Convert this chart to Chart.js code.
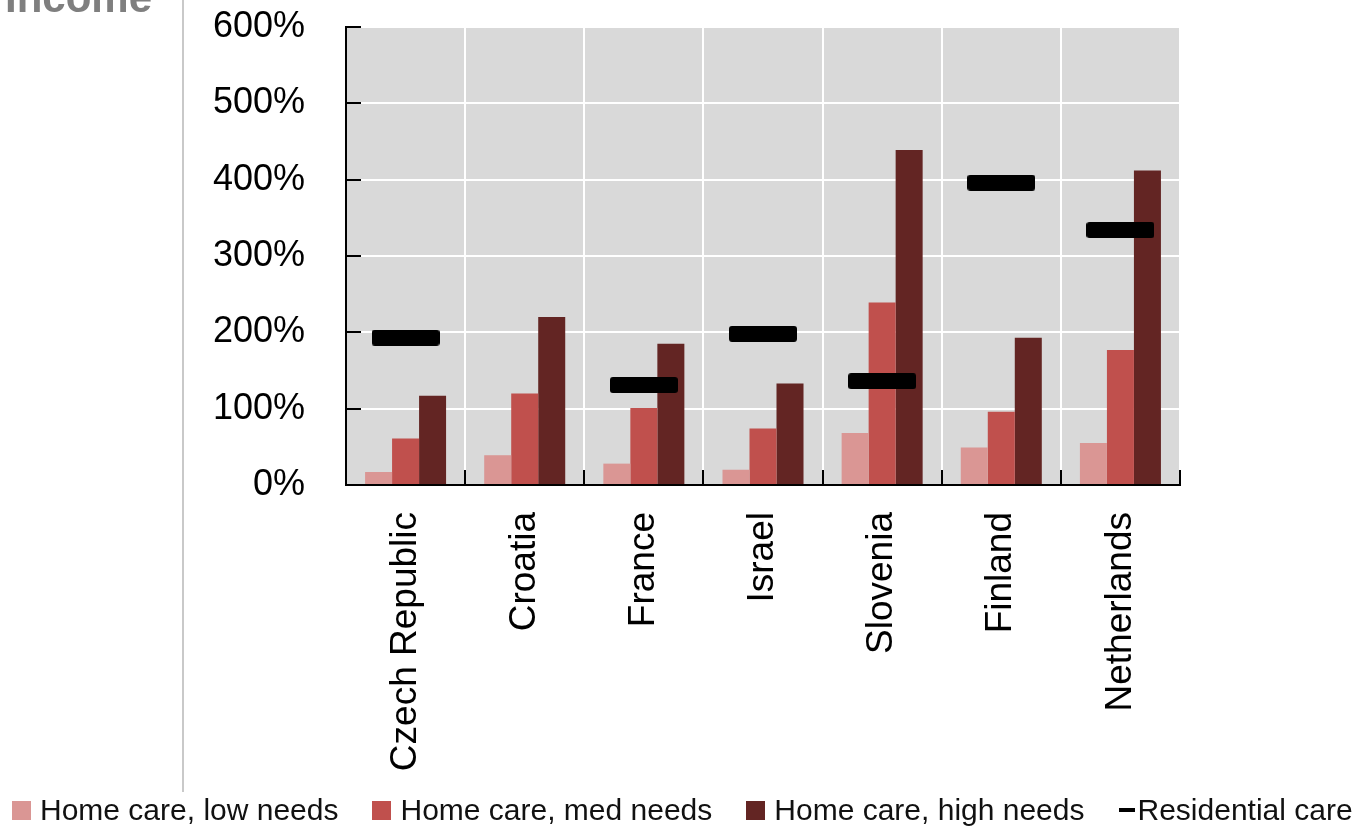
<!DOCTYPE html>
<html>
<head>
<meta charset="utf-8">
<title>Care costs relative to income</title>
<script src="https://cdn.jsdelivr.net/npm/chart.js@4/dist/chart.umd.min.js"></script>
<style>
  html, body { margin: 0; padding: 0; background: #ffffff; }
  #wrap { position: relative; width: 1363px; height: 829px; overflow: hidden; }
  #chart { position: absolute; left: 0; top: 0; }
  #axisTitle {
    position: absolute; left: 5px; top: -23px;
    font: bold 42px "Liberation Sans", Arial, sans-serif; line-height: 42px;
    color: #7f7f7f; white-space: nowrap;
  }
  #divider { position: absolute; left: 182px; top: 0; width: 2px; height: 792px; background: #c9c9c9; }
  #legend {
    position: absolute; left: 12px; top: 790px; height: 40px;
    display: flex; align-items: center; white-space: nowrap;
    font: 30px "Liberation Sans", Arial, sans-serif; color: #111111;
  }
  #legend .item { display: flex; align-items: center; margin-right: 34px; }
  #legend .item:last-child { margin-right: 0; }
  #legend .swatch { width: 19px; height: 19px; margin-right: 9px; }
  #legend .dash { width: 16px; height: 4px; margin-right: 3px; }
</style>
</head>
<body>
<div id="wrap">
  <canvas id="chart" width="1363" height="829"></canvas>
  <div id="axisTitle">Income</div>
  <div id="divider"></div>
  <div id="legend"></div>
</div>
<script>
// Countries on the category axis
const categories = ['Czech Republic', 'Croatia', 'France', 'Israel', 'Slovenia', 'Finland', 'Netherlands'];

// Cost of care as a share of income (%)
const homeLowNeeds  = [17, 39, 28, 20, 68, 49, 55];
const homeMedNeeds  = [61, 120, 101, 74, 239, 96, 177];
const homeHighNeeds = [117, 220, 185, 133, 439, 193, 412];
const residentialCare = [193, null, 131, 198, 136, 396, 334];

// Value axis ticks
const yTicks = [0, 100, 200, 300, 400, 500, 600];

const seriesNames = ['Home care, low needs', 'Home care, med needs', 'Home care, high needs', 'Residential care'];
const seriesColors = ['#DA9694', '#C0504D', '#632523', '#000000'];

// Rounded black dash used as the marker for residential care
function makeDash(w, h, r) {
  const c = document.createElement('canvas');
  c.width = w; c.height = h;
  const g = c.getContext('2d');
  g.fillStyle = '#000000';
  g.beginPath();
  g.moveTo(r, 0); g.lineTo(w - r, 0); g.quadraticCurveTo(w, 0, w, r);
  g.lineTo(w, h - r); g.quadraticCurveTo(w, h, w - r, h);
  g.lineTo(r, h); g.quadraticCurveTo(0, h, 0, h - r);
  g.lineTo(0, r); g.quadraticCurveTo(0, 0, r, 0);
  g.closePath(); g.fill();
  return c;
}
const dash = makeDash(68, 16, 3);

// Grey plot background plus inward tick marks on both axes
const plotFrame = {
  id: 'plotFrame',
  beforeDraw(chart) {
    const a = chart.chartArea, ctx = chart.ctx;
    ctx.save();
    ctx.fillStyle = '#D9D9D9';
    ctx.fillRect(a.left, a.top, a.right - a.left, a.bottom - a.top);
    ctx.restore();
  },
  afterDatasetsDraw(chart) {
    const a = chart.chartArea, ctx = chart.ctx;
    const xs = chart.scales.x, ys = chart.scales.y;
    ctx.save();
    ctx.strokeStyle = '#000000';
    ctx.lineWidth = 2;
    ctx.beginPath();
    yTicks.forEach(v => {
      const y = Math.round(ys.getPixelForValue(v));
      ctx.moveTo(a.left, y); ctx.lineTo(a.left + 15, y);
    });
    const step = (xs.right - xs.left) / categories.length;
    for (let i = 0; i <= categories.length; i++) {
      const x = Math.round(xs.left + i * step);
      ctx.moveTo(x, a.bottom); ctx.lineTo(x, a.bottom - 15);
    }
    ctx.stroke();
    ctx.restore();
  }
};

const barSeries = [homeLowNeeds, homeMedNeeds, homeHighNeeds].map((vals, i) => ({
  type: 'bar',
  label: seriesNames[i],
  data: vals,
  backgroundColor: seriesColors[i],
  borderWidth: 0,
  categoryPercentage: 0.68,
  barPercentage: 1.0,
  order: 1
}));

const chart = new Chart(document.getElementById('chart'), {
  type: 'bar',
  data: {
    labels: categories,
    datasets: [
      ...barSeries,
      {
        type: 'line',
        label: seriesNames[3],
        data: residentialCare,
        showLine: false,
        pointStyle: dash,
        pointRadius: 3,
        borderColor: '#000000',
        backgroundColor: '#000000',
        order: 0
      }
    ]
  },
  plugins: [plotFrame],
  options: {
    responsive: false,
    animation: false,
    events: [],
    layout: { padding: { left: 0, right: 183, top: 27, bottom: 57 } },
    plugins: {
      tooltip: { enabled: false },
      legend: { display: false }
    },
    scales: {
      x: {
        grid: { color: '#FFFFFF', lineWidth: 2, drawTicks: false, offset: true },
        border: { display: true, color: '#000000', width: 2 },
        ticks: {
          minRotation: 90, maxRotation: 90, padding: 27, autoSkip: false,
          color: '#000000',
          font: { family: '"Liberation Sans", Arial, sans-serif', size: 37 }
        },
        afterFit(s) { s.height = 287; }
      },
      y: {
        min: 0, max: 600,
        afterBuildTicks(s) { s.ticks = yTicks.map(v => ({ value: v })); },
        grid: { color: '#FFFFFF', lineWidth: 2, drawTicks: false },
        border: { display: true, color: '#000000', width: 2 },
        ticks: {
          padding: 41,
          color: '#000000',
          font: { family: '"Liberation Sans", Arial, sans-serif', size: 36 },
          callback: v => v + '%'
        },
        afterFit(s) {
          s.width = 346;
          // only half a label height is needed above and below the axis
          s.paddingTop = 22;
          s.paddingBottom = 22;
        }
      }
    }
  }
});

// Legend row built from the chart's own datasets
const legendEl = document.getElementById('legend');
chart.data.datasets.forEach((ds, i) => {
  const item = document.createElement('span');
  item.className = 'item';
  const mark = document.createElement('span');
  mark.className = ds.type === 'line' ? 'dash' : 'swatch';
  mark.style.background = seriesColors[i];
  const label = document.createElement('span');
  label.textContent = ds.label;
  item.appendChild(mark);
  item.appendChild(label);
  legendEl.appendChild(item);
});
</script>
</body>
</html>
